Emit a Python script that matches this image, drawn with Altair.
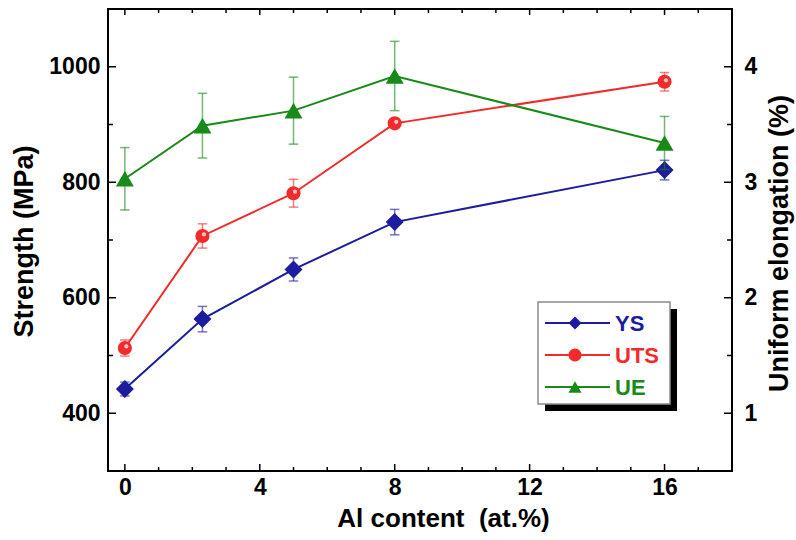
import altair as alt
import pandas as pd

# ---------------- data ----------------
al_content = [0, 2.3, 5, 8, 16]
ys = [442, 563, 649, 731, 821]
ys_err = [12, 22, 20, 22, 17]
uts = [513, 707, 781, 902, 974]
uts_err = [14, 21, 24, 6, 16]
ue = [3.03, 3.49, 3.62, 3.92, 3.34]
ue_err = [0.27, 0.28, 0.29, 0.30, 0.23]

series_names = ["YS", "UTS", "UE"]
series_colors = ["#1c1c9e", "#f22a2a", "#178a17"]
series_shapes = ["diamond", "circle", "triangle-up"]

x_major = [0, 4, 8, 12, 16]
x_minor = [1, 2, 3, 5, 6, 7, 9, 10, 11, 13, 14, 15, 17]
left_major = [400, 600, 800, 1000]
left_minor = [500, 700, 900]
right_major = [1, 2, 3, 4]
right_minor = [1.5, 2.5, 3.5]

FONT = "Liberation Sans"
W, H = 624, 462

# ---------------- frames ----------------
rows = []
for name, vals, errs in [("YS", ys, ys_err), ("UTS", uts, uts_err)]:
    for x, v, e in zip(al_content, vals, errs):
        rows.append({"x": x, "value": v, "err": e, "series": name})
left_df = pd.DataFrame(rows)
right_df = pd.DataFrame({"x": al_content, "value": ue, "err": ue_err,
                         "series": ["UE"] * len(al_content)})

x_scale = alt.Scale(domain=[-0.5, 18], nice=False, zero=False)
left_scale = alt.Scale(domain=[300, 1100], nice=False, zero=False)
right_scale = alt.Scale(domain=[0.5, 4.5], nice=False, zero=False)
color_scale = alt.Scale(domain=series_names, range=series_colors)
color = alt.Color("series:N", scale=color_scale, legend=None)

x_axis = alt.Axis(
    values=x_major, format="d", ticks=False, domain=False, grid=False,
    labelFont=FONT, labelFontWeight="bold", labelFontSize=23, labelColor="black",
    labelPadding=5, labelFlush=False, labelOverlap=False,
    title="Al content \u00a0(at.%)", titleFont=FONT, titleFontWeight="bold",
    titleFontSize=26, titleColor="black", titleX=335, titleY=47,
    titleBaseline="middle", titleAlign="center")
left_axis = alt.Axis(
    values=left_major, format="d", ticks=False, domain=False, grid=False,
    labelFont=FONT, labelFontWeight="bold", labelFontSize=23, labelColor="black",
    labelPadding=8, labelOverlap=False,
    title="Strength (MPa)", titleFont=FONT, titleFontWeight="bold",
    titleFontSize=27, titleColor="black", titleAngle=270, titleX=-84, titleY=232,
    titleBaseline="middle", titleAlign="center")
right_axis = alt.Axis(
    orient="right", values=right_major, format="d", ticks=False, domain=False,
    grid=False, labelFont=FONT, labelFontWeight="bold", labelFontSize=23,
    labelColor="black", labelPadding=12, labelOverlap=False,
    title="Uniform elongation (%)", titleFont=FONT, titleFontWeight="bold",
    titleFontSize=27, titleColor="black", titleAngle=270, titleX=47, titleY=234,
    titleBaseline="middle", titleAlign="center")


def X(field="x:Q"):
    return alt.X(field, scale=x_scale, axis=x_axis)


def series_layers(df, name, yscale, yaxis, shape, size):
    base = alt.Chart(df).transform_filter(alt.datum.series == name).transform_calculate(
        lo="datum.value - datum.err", hi="datum.value + datum.err")

    def Y(field):
        return alt.Y(field, scale=yscale, axis=yaxis)

    line = base.mark_line(strokeWidth=2).encode(x=X(), y=Y("value:Q"), color=color)
    err = base.mark_rule(strokeWidth=1.5, opacity=0.6).encode(
        x=X(), y=Y("lo:Q"), y2="hi:Q", color=color)
    cap_lo = base.mark_point(shape="stroke", size=90, strokeWidth=1.5, opacity=0.6).encode(
        x=X(), y=Y("lo:Q"), color=color)
    cap_hi = base.mark_point(shape="stroke", size=90, strokeWidth=1.5, opacity=0.6).encode(
        x=X(), y=Y("hi:Q"), color=color)
    pts = base.mark_point(shape=shape, size=size, filled=True, opacity=1).encode(
        x=X(), y=Y("value:Q"), color=color)
    return [line, err, cap_lo, cap_hi, pts]


def yticks(vals, yscale, yaxis, x0, x1):
    return alt.Chart(pd.DataFrame({"t": vals})).mark_rule(
        color="black", strokeWidth=1.5).encode(
        y=alt.Y("t:Q", scale=yscale, axis=yaxis), x=alt.value(x0), x2=alt.value(x1))


ys_layers = series_layers(left_df, "YS", left_scale, left_axis, "diamond", 324)
uts_layers = series_layers(left_df, "UTS", left_scale, left_axis, "circle", 200)
uts_hl = alt.Chart(left_df).transform_filter(alt.datum.series == "UTS").mark_point(
    shape="circle", size=18, filled=True, color="#ffd6d6", opacity=0.9,
    xOffset=1.5, yOffset=-1.5).encode(
    x=X(), y=alt.Y("value:Q", scale=left_scale, axis=left_axis))

left = alt.layer(
    *ys_layers, *uts_layers, uts_hl,
    yticks(left_major, left_scale, left_axis, 0, 8),
    yticks(left_minor, left_scale, left_axis, 0, 5),
)

ue_layers = series_layers(right_df, "UE", right_scale, right_axis, "triangle-up", 324)
right = alt.layer(
    *ue_layers,
    yticks(right_major, right_scale, right_axis, W, W - 8),
    yticks(right_minor, right_scale, right_axis, W, W - 5),
)


def xticks(vals, y0, y1):
    return alt.Chart(pd.DataFrame({"x": vals})).mark_rule(
        color="black", strokeWidth=1.5).encode(
        x=X(), y=alt.value(y0), y2=alt.value(y1))


one = pd.DataFrame({"k": [0]})
shadow = alt.Chart(one).mark_rect(fill="black").encode(
    x=alt.value(437), x2=alt.value(569), y=alt.value(300), y2=alt.value(402))
box = alt.Chart(one).mark_rect(fill="white", stroke="#8c8c8c", strokeWidth=1.5).encode(
    x=alt.value(430), x2=alt.value(562), y=alt.value(293), y2=alt.value(395))

legend_df = pd.DataFrame({"series": series_names, "i": list(range(len(series_names)))})
lbase = alt.Chart(legend_df).transform_calculate(ly="314 + 32 * datum.i")
leg_lines = lbase.mark_rule(strokeWidth=2).encode(
    x=alt.value(437), x2=alt.value(502), y=alt.Y("ly:Q", scale=None), color=color)
leg_pts = lbase.mark_point(filled=True, size=170, opacity=1).encode(
    x=alt.value(467), y=alt.Y("ly:Q", scale=None), color=color,
    shape=alt.Shape("series:N", scale=alt.Scale(domain=series_names, range=series_shapes),
                    legend=None))
leg_text = lbase.mark_text(align="left", baseline="middle", font=FONT, fontSize=22,
                           fontWeight="bold", dy=1).encode(
    x=alt.value(507), y=alt.Y("ly:Q", scale=None), text="series:N", color=color)

misc = alt.layer(
    xticks(x_major, H, H - 7), xticks(x_minor, H, H - 4),
    xticks(x_major, 0, 6), xticks(x_minor, 0, 4),
    shadow, box, leg_lines, leg_pts, leg_text,
)

chart = alt.layer(left, right, misc).resolve_scale(y="independent").properties(
    width=W, height=H,
    autosize=alt.AutoSizeParams(type="none"),
    padding={"left": 108, "top": 9, "right": 64, "bottom": 69},
    background="white",
).configure_view(stroke="black", strokeWidth=2)

chart.save("out.html", embed_options={"renderer": "svg", "actions": False})
